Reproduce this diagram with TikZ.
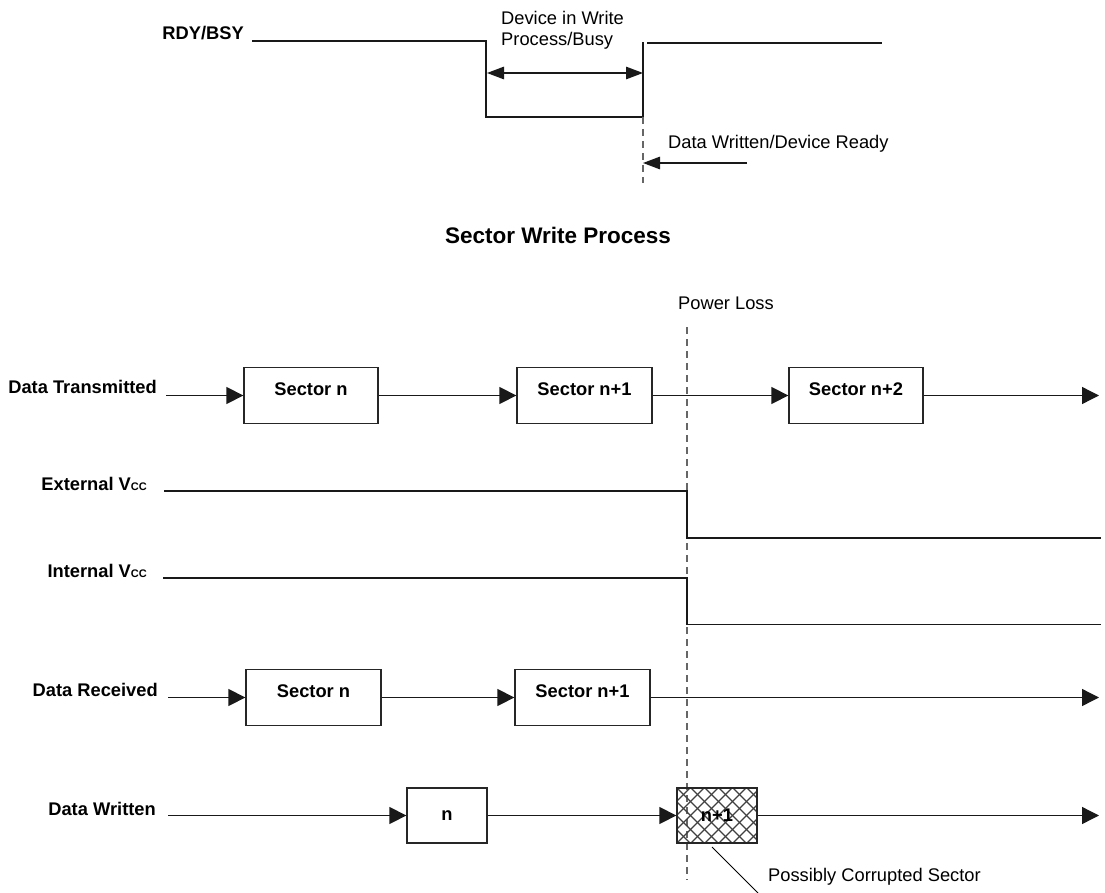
\documentclass[tikz,border=0pt]{standalone}
\usepackage{fontspec}
\setmainfont{Liberation Sans}
\usetikzlibrary{arrows.meta}
\begin{document}
\begin{tikzpicture}[x=1pt,y=-1pt,
 lab/.style={font=\fontsize{18.3}{20}\selectfont\bfseries, inner sep=0pt},
 txt/.style={font=\fontsize{18.3}{20}\selectfont, inner sep=0pt},
 ttl/.style={font=\fontsize{22.5}{24}\selectfont\bfseries, inner sep=0pt},
 box/.style={draw=black!85, line width=1.3pt, minimum height=56pt, inner sep=0pt, font=\fontsize{18.3}{20}\selectfont\bfseries},
 secbox/.style={box, text height=11pt, text depth=11pt},
 sig/.style={line width=1.3pt, draw=black!90},
 arr/.style={sig, -{Triangle[length=17pt,width=17pt]}},
 tarr/.style={sig, -{Triangle[length=17pt,width=12.5pt]}},
 tdarr/.style={sig, {Triangle[length=17pt,width=12.5pt]}-{Triangle[length=17pt,width=12.5pt]}},
 dashln/.style={draw=black!60, line width=1.3pt, dash pattern=on 7pt off 5pt},
 hatch/.style={draw=black!75, line width=1.3pt}
]
\useasboundingbox (0,0) rectangle (1105,893);

% ---------- RDY/BSY ----------
\node[lab, anchor=base east] (rdy) at (244,40) {RDY/BSY};
\coordinate (r0) at (252,41);
\coordinate (r1) at (486,41);
\coordinate (r2) at (486,117);
\coordinate (r3) at (643,117);
\coordinate (r4) at (643,42);
\coordinate (r5) at (647,43);
\coordinate (r6) at (882,43);
\coordinate (rd) at (643,183);
\draw[sig] (r0) -- (r1) -- (r2) -- (r3) -- (r4);
\draw[sig] (r5) -- (r6);
\draw[dashln] (r3) -- (rd);
\coordinate (b0) at (487,73);
\coordinate (b1) at (643,73);
\draw[tdarr] (b0) -- (b1);
\node[txt, anchor=base west] (dw1) at (501,24.5) {Device in Write};
\node[txt, anchor=base west] (dw2) at (501,45.5) {Process/Busy};
\node[txt, anchor=base west] (dr) at (668,148.5) {Data Written/Device Ready};
\coordinate (a0) at (747,163);
\coordinate (a1) at (643,163);
\draw[tarr] (a0) -- (a1);

% ---------- Title ----------
\node[ttl] (title) at (558,235) {Sector Write Process};

% ---------- Power loss ----------
\node[txt, anchor=base west] (pl) at (678,309.5) {Power Loss};
\coordinate (p0) at (687,327);
\coordinate (p1) at (687,880);
\draw[dashln] (p0) -- (p1);

% ---------- Data Transmitted ----------
\node[lab, anchor=base east] (dtl) at (157,393.5) {Data Transmitted};
\coordinate (dt0) at (166,395.5);
\node[secbox, minimum width=134pt] (t1) at (311,395.5) {Sector n};
\node[secbox, minimum width=135pt] (t2) at (584.5,395.5) {Sector n+1};
\node[secbox, minimum width=134pt] (t3) at (856,395.5) {Sector n+2};
\coordinate (dt9) at (1099,395.5);
\draw[arr] (dt0) -- (t1.west);
\draw[arr] (t1.east) -- (t2.west);
\draw[arr] (t2.east) -- (t3.west);
\draw[arr] (t3.east) -- (dt9);

% ---------- External Vcc ----------
\node[lab, anchor=base east] (evl) at (147,490) {External V{\fontsize{11}{12}\selectfont CC}};
\coordinate (e0) at (164,491);
\coordinate (e1) at (687,491);
\coordinate (e2) at (687,538);
\coordinate (e3) at (1101,538);
\draw[sig] (e0) -- (e1) -- (e2) -- (e3);

% ---------- Internal Vcc ----------
\node[lab, anchor=base east] (ivl) at (147,577) {Internal V{\fontsize{11}{12}\selectfont CC}};
\coordinate (i0) at (163,578);
\coordinate (i1) at (687,578);
\coordinate (i2) at (687,624.5);
\coordinate (i3) at (1101,624.5);
\draw[sig] (i0) -- (i1) -- (i2) -- (i3);

% ---------- Data Received ----------
\node[lab, anchor=base east] (drl) at (158,696.5) {Data Received};
\coordinate (dr0) at (168,697.5);
\node[secbox, minimum width=135pt] (r1b) at (313.5,697.5) {Sector n};
\node[secbox, minimum width=135pt] (r2b) at (582.5,697.5) {Sector n+1};
\coordinate (dr9) at (1099,697.5);
\draw[arr] (dr0) -- (r1b.west);
\draw[arr] (r1b.east) -- (r2b.west);
\draw[arr] (r2b.east) -- (dr9);

% ---------- Data Written ----------
\node[lab, anchor=base east] (dwl) at (156,815) {Data Written};
\coordinate (w0) at (168,815.5);
\node[box, minimum width=80pt, minimum height=55pt] (w1) at (447,815.5) {n};
\begin{scope}
\clip (677,788) rectangle (757,843);
\foreach \k in {-5,...,7} {
  \draw[hatch] (677+14*\k,788) -- (677+14*\k+55,843);
  \draw[hatch] (677+14*\k,843) -- (677+14*\k+55,788);
}
\end{scope}
\node[box, minimum width=80pt, minimum height=55pt] (w2) at (717,815.5) {n+1};
\coordinate (w9) at (1099,815.5);
\draw[arr] (w0) -- (w1.west);
\draw[arr] (w1.east) -- (w2.west);
\draw[arr] (w2.east) -- (w9);

% ---------- Corrupted ----------
\coordinate (c0) at (712,847);
\coordinate (c1) at (758,893);
\draw[line width=1pt] (c0) -- (c1);
\node[txt, anchor=base west] (pcs) at (768,881.5) {Possibly Corrupted Sector};
\end{tikzpicture}
\end{document}
